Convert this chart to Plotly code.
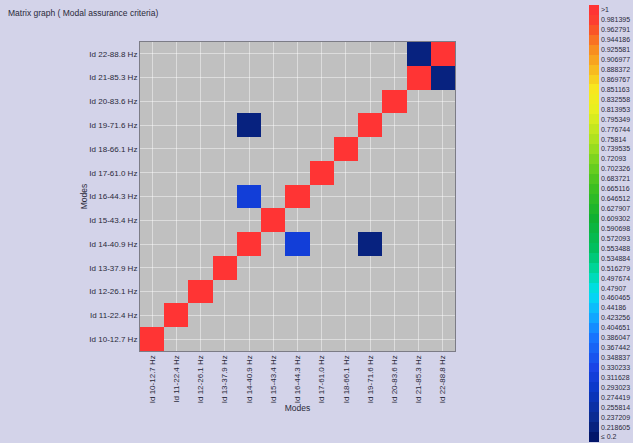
import plotly.graph_objects as go

modes = ["Id 10-12.7 Hz", "Id 11-22.4 Hz", "Id 12-26.1 Hz", "Id 13-37.9 Hz",
         "Id 14-40.9 Hz", "Id 15-43.4 Hz", "Id 16-44.3 Hz", "Id 17-61.0 Hz",
         "Id 18-66.1 Hz", "Id 19-71.6 Hz", "Id 20-83.6 Hz", "Id 21-85.3 Hz",
         "Id 22-88.8 Hz"]

# MAC values (row = mode on y axis, column = mode on x axis); None = below 0.2 (not drawn)
N = None
mac = [
    [1.0, N, N, N, N, N, N, N, N, N, N, N, N],      # Id 10
    [N, 1.0, N, N, N, N, N, N, N, N, N, N, N],      # Id 11
    [N, N, 1.0, N, N, N, N, N, N, N, N, N, N],      # Id 12
    [N, N, N, 1.0, N, N, N, N, N, N, N, N, N],      # Id 13
    [N, N, N, N, 1.0, N, 0.33, N, N, 0.23, N, N, N],  # Id 14
    [N, N, N, N, N, 1.0, N, N, N, N, N, N, N],      # Id 15
    [N, N, N, N, 0.33, N, 1.0, N, N, N, N, N, N],   # Id 16
    [N, N, N, N, N, N, N, 1.0, N, N, N, N, N],      # Id 17
    [N, N, N, N, N, N, N, N, 1.0, N, N, N, N],      # Id 18
    [N, N, N, N, 0.23, N, N, N, N, 1.0, N, N, N],   # Id 19
    [N, N, N, N, N, N, N, N, N, N, 1.0, N, N],      # Id 20
    [N, N, N, N, N, N, N, N, N, N, N, 1.0, 0.23],   # Id 21
    [N, N, N, N, N, N, N, N, N, N, N, 0.23, 1.0],   # Id 22
]

cbar_labels = [">1", "0.981395", "0.962791", "0.944186", "0.925581", "0.906977",
               "0.888372", "0.869767", "0.851163", "0.832558", "0.813953", "0.795349",
               "0.776744", "0.75814", "0.739535", "0.72093", "0.702326", "0.683721",
               "0.665116", "0.646512", "0.627907", "0.609302", "0.590698", "0.572093",
               "0.553488", "0.534884", "0.516279", "0.497674", "0.47907", "0.460465",
               "0.44186", "0.423256", "0.404651", "0.386047", "0.367442", "0.348837",
               "0.330233", "0.311628", "0.293023", "0.274419", "0.255814", "0.237209",
               "0.218605", "≤ 0.2"]

# ---- styling ----
nslots = len(cbar_labels)
zmin = 0.2
step = 0.8 / 43
zmax = zmin + nslots * step
tickvals = [zmax - step * (i + 0.5) for i in range(nslots)]

anchors = [
    (0.20, (0, 16, 96)), (0.24, (10, 42, 140)), (0.30, (10, 56, 200)),
    (0.34, (26, 68, 230)), (0.40, (24, 120, 255)), (0.44, (16, 176, 255)),
    (0.48, (0, 224, 240)), (0.52, (0, 216, 160)), (0.56, (0, 192, 96)),
    (0.62, (16, 176, 48)), (0.68, (64, 192, 32)), (0.72, (112, 208, 32)),
    (0.76, (168, 224, 32)), (0.82, (232, 240, 32)), (0.86, (248, 232, 32)),
    (0.90, (248, 184, 32)), (0.94, (248, 136, 32)), (0.975, (250, 80, 40)),
    (1.00, (255, 52, 52)), (1.10, (255, 52, 52)),
]


def col_at(v):
    for (a, ca), (b, cb) in zip(anchors[:-1], anchors[1:]):
        if a <= v <= b:
            t = (v - a) / (b - a)
            return "rgb(%d,%d,%d)" % tuple(round(ca[k] + t * (cb[k] - ca[k])) for k in range(3))
    return "rgb(%d,%d,%d)" % anchors[-1][1]


colorscale = []
for j in range(nslots):
    lo = zmin + j * step
    c = col_at(lo + step / 2)
    colorscale.append([j / nslots, c])
    colorscale.append([(j + 1) / nslots, c])

W, H = 633, 443
L, R, T, B = 140, 455, 42, 351
pw, ph = R - L, B - T
font = "Liberation Sans, Arial, sans-serif"
txt = "#2a2a3a"

fig = go.Figure(go.Heatmap(
    x=modes, y=modes, z=mac, zmin=zmin, zmax=zmax,
    colorscale=colorscale, hoverongaps=False,
    colorbar=dict(
        thickness=10, thicknessmode="pixels",
        len=437, lenmode="pixels",
        x=(589 - L) / pw, xanchor="left", xpad=0,
        y=1 + (T - 5) / ph, yanchor="top", ypad=0,
        outlinewidth=0, ticks="",
        tickvals=tickvals, ticktext=cbar_labels,
        tickfont=dict(size=7, color=txt, family=font),
    ),
))

fig.update_layout(
    width=W, height=H,
    margin=dict(l=L, r=W - R, t=T, b=H - B, autoexpand=False),
    paper_bgcolor="#d3d3e9", plot_bgcolor="#c0c0c0",
    font=dict(family=font, size=8, color=txt),
    title=dict(text="Matrix graph ( Modal assurance criteria)",
               x=8 / W, xref="container", xanchor="left",
               y=1 - 13 / H, yref="container", yanchor="middle",
               font=dict(size=8.5, color=txt, family=font)),
)
axis_common = dict(
    type="category", showgrid=True, gridcolor="rgba(255,255,255,0.45)", gridwidth=1,
    showline=True, mirror=True, linecolor="#7c7c86", linewidth=1,
    ticks="", zeroline=False, tickfont=dict(size=8, color=txt, family=font),
)
fig.update_xaxes(**axis_common, tickangle=-90,
                 title=dict(text="Modes", standoff=0, font=dict(size=8.5, color=txt)))
fig.update_yaxes(**axis_common,
                 title=dict(text="Modes", standoff=0, font=dict(size=8.5, color=txt)))

fig.write_html("out.html", config={"displayModeBar": False},
               post_script="document.body.style.margin='0';")
